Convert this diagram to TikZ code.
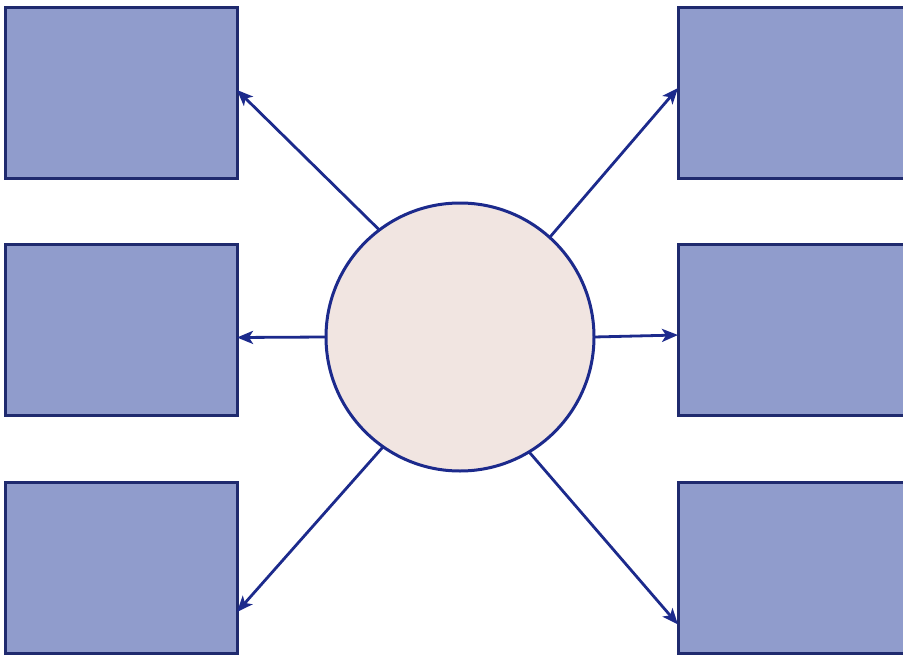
\documentclass[tikz,border=0pt]{standalone}
\usetikzlibrary{arrows.meta}
\definecolor{boxfill}{HTML}{909CCC}
\definecolor{boxline}{HTML}{1F2A6E}
\definecolor{circfill}{HTML}{F1E5E1}
\definecolor{arrowcol}{HTML}{1C2A8C}
\begin{document}
\begin{tikzpicture}[x=1pt,y=-1pt,
  boxnode/.style={draw=boxline,fill=boxfill,line width=3pt,minimum width=232pt,minimum height=171pt,inner sep=0pt,outer sep=0pt},
  hub/.style={circle,draw=arrowcol,fill=circfill,line width=3pt,minimum size=268pt,inner sep=0pt,outer sep=0pt},
  link/.style={draw=arrowcol,line width=2.8pt,-{Stealth[length=16pt,width=13pt,inset=4pt]}}]
\useasboundingbox[fill=white] (0,0) rectangle (903,656);
\node[boxnode] (tl) at (121,92.5) {};
\node[boxnode] (ml) at (121,330) {};
\node[boxnode] (bl) at (121,568) {};
\node[boxnode] (tr) at (794,92.5) {};
\node[boxnode] (mr) at (794,330) {};
\node[boxnode] (br) at (794,567.5) {};
\node[hub] (c) at (460,337) {};
\draw[link] (c.127) -- ([yshift=2.5pt]tl.east);
\draw[link] (c.180) -- ([yshift=-7.5pt]ml.east);
\draw[link] (c.235) -- ([yshift=-44pt]bl.east);
\draw[link] (c.48) -- ([yshift=4.5pt]tr.west);
\draw[link] (c.0) -- ([yshift=-5pt]mr.west);
\draw[link] (c.301) -- ([yshift=-57pt]br.west);
\end{tikzpicture}
\end{document}
